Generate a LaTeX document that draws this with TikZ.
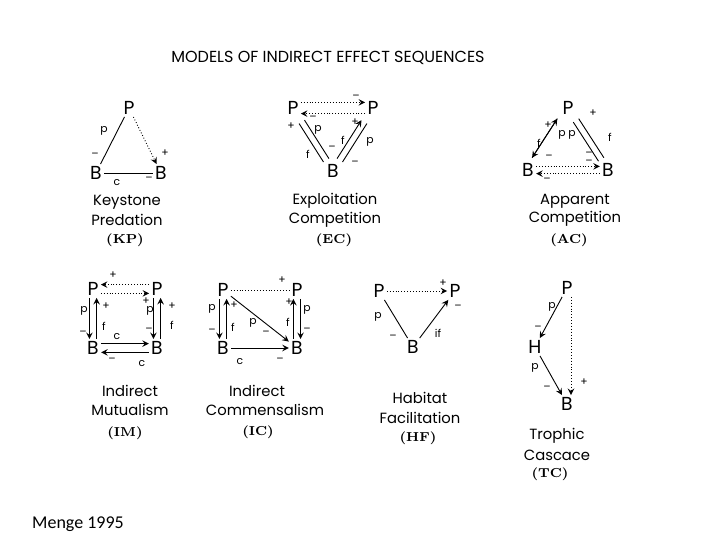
\documentclass[tikz,border=0pt]{standalone}
\usepackage{fontspec}
\usetikzlibrary{arrows,calc,positioning}
\newfontfamily\plotfont{Poppins}
\newfontfamily\notefont{Carlito}
\tikzset{
  sp/.style={font=\plotfont\fontsize{9.4}{10}\selectfont,inner sep=1pt},
  lbl/.style={font=\plotfont\fontsize{5.4}{6}\selectfont,inner sep=0pt},
  modeltxt/.style={font=\plotfont\fontsize{7.4}{9}\selectfont,inner sep=0pt},
  tag/.style={font=\fontsize{6.5}{7}\selectfont\bfseries,inner sep=0pt},
  eff/.style={line width=.45pt},
  ind/.style={line width=.45pt,densely dotted}
}
\begin{document}
\begin{tikzpicture}[x=0.5pt,y=-0.5pt,>=stealth]
\useasboundingbox[fill=white] (0,0) rectangle (720,540);

\node[font=\plotfont\fontsize{8}{9}\selectfont] (title) at (328,58) {MODELS OF INDIRECT EFFECT SEQUENCES};

% keystone predation
\node[sp] (kpP) at (129,108) {P};
\node[sp] (kpB1) at (96,173) {B};
\node[sp] (kpB2) at (161,173) {B};
\draw[eff] (kpP) -- (kpB1);
\draw[ind,->] (kpP) -- (kpB2);
\draw[eff] (kpB1) -- (kpB2);
\node[lbl] (kpl1) at (104,131) {p};
\node[lbl] (kpl2) at (95,155) {–};
\node[lbl] (kpl3) at (165,153) {+};
\node[lbl] (kpl4) at (149,179) {–};
\node[lbl] (kpl5) at (117,183) {c};
\node[modeltxt] (kpc1) at (127,202) {Keystone};
\node[modeltxt] (kpc2) at (127,220) {Predation};
\node[tag] (kpc3) at (125,240) {(KP)};

% exploitation competition
\node[sp] (ecP1) at (293,108) {P};
\node[sp] (ecP2) at (373,108) {P};
\node[sp] (ecB) at (333,171) {B};
\draw[ind,->] ([yshift=2.8pt]ecP1.east) -- ([yshift=2.8pt]ecP2.west);
\draw[ind,->] ([yshift=-2.8pt]ecP2.west) -- ([yshift=-2.8pt]ecP1.east);
\draw[eff] ($(ecP1)!.22!(ecB)!1.6pt!90:(ecB)$) -- ($(ecP1)!.83!(ecB)!1.6pt!-90:(ecP1)$);
\draw[eff] ($(ecP1)!.22!(ecB)!1.6pt!-90:(ecB)$) -- ($(ecP1)!.83!(ecB)!1.6pt!90:(ecP1)$);
\draw[eff,->] ($(ecB)!.17!(ecP2)!1.6pt!90:(ecP2)$) -- ($(ecB)!.78!(ecP2)!1.6pt!-90:(ecB)$);
\draw[eff] ($(ecB)!.17!(ecP2)!1.6pt!-90:(ecP2)$) -- ($(ecB)!.78!(ecP2)!1.6pt!90:(ecB)$);
\node[lbl] (ecl1) at (356,97) {–};
\node[lbl] (ecl2) at (313,118) {–};
\node[lbl] (ecl3) at (355,122) {+};
\node[lbl] (ecl4) at (291,126) {+};
\node[lbl] (ecl5) at (318,130) {p};
\node[lbl] (ecl6) at (308,154) {f};
\node[lbl] (ecl7) at (332,148) {–};
\node[lbl] (ecl8) at (343,140) {f};
\node[lbl] (ecl9) at (370,142) {p};
\node[lbl] (ecl10) at (355,163) {–};
\node[modeltxt] (ecc1) at (335,201) {Exploitation};
\node[modeltxt] (ecc2) at (335,220) {Competition};
\node[tag] (ecc3) at (334,240) {(EC)};

% apparent competition
\node[sp] (acP) at (568,108) {P};
\node[sp] (acB1) at (528,170) {B};
\node[sp] (acB2) at (608,170) {B};
\draw[eff,->] ($(acB1)!.17!(acP)!1.6pt!90:(acP)$) -- ($(acB1)!.8!(acP)!1.6pt!-90:(acB1)$);
\draw[eff,->] ($(acP)!.2!(acB1)!1.6pt!-90:(acB1)$) -- ($(acP)!.83!(acB1)!1.6pt!90:(acP)$);
\draw[eff] ($(acP)!.2!(acB2)!1.6pt!90:(acB2)$) -- ($(acP)!.83!(acB2)!1.6pt!-90:(acP)$);
\draw[eff] ($(acP)!.2!(acB2)!1.6pt!-90:(acB2)$) -- ($(acP)!.83!(acB2)!1.6pt!90:(acP)$);
\draw[ind,->] ([yshift=1.8pt]acB1.east) -- ([yshift=1.8pt]acB2.west);
\draw[ind,->] ([yshift=-1.8pt]acB2.west) -- ([yshift=-1.8pt]acB1.east);
\node[lbl] (acl1) at (548,125) {+};
\node[lbl] (acl2) at (539,143) {f};
\node[lbl] (acl3) at (562,135) {p};
\node[lbl] (acl4) at (572,135) {p};
\node[lbl] (acl5) at (549,157) {–};
\node[lbl] (acl6) at (593,113) {+};
\node[lbl] (acl7) at (610,137) {f};
\node[lbl] (acl8) at (589,154) {–};
\node[lbl] (acl9) at (589,162) {–};
\node[lbl] (acl10) at (547,180) {–};
\node[modeltxt] (acc1) at (575,201) {Apparent};
\node[modeltxt] (acc2) at (575,219) {Competition};
\node[tag] (acc3) at (569,240) {(AC)};

% indirect mutualism
\node[sp] (imP1) at (93,289) {P};
\node[sp] (imP2) at (157,289) {P};
\node[sp] (imB1) at (93,348) {B};
\node[sp] (imB2) at (157,348) {B};
\draw[ind,->] ([yshift=2.2pt]imP2.west) -- ([yshift=2.2pt]imP1.east);
\draw[ind,->] ([yshift=-2.2pt]imP1.east) -- ([yshift=-2.2pt]imP2.west);
\draw[eff,->] ([xshift=-1.8pt]imP1.south) -- ([xshift=-1.8pt]imB1.north);
\draw[eff,->] ([xshift=1.8pt]imB1.north) -- ([xshift=1.8pt]imP1.south);
\draw[eff,->] ([xshift=-1.8pt]imP2.south) -- ([xshift=-1.8pt]imB2.north);
\draw[eff,->] ([xshift=1.8pt]imB2.north) -- ([xshift=1.8pt]imP2.south);
\draw[eff,->] ([yshift=2.2pt]imB1.east) -- ([yshift=2.2pt]imB2.west);
\draw[eff,->] ([yshift=-2.2pt]imB2.west) -- ([yshift=-2.2pt]imB1.east);
\node[lbl] (iml1) at (113,275) {+};
\node[lbl] (iml2) at (146,301) {+};
\node[lbl] (iml3) at (84,311) {p};
\node[lbl] (iml4) at (83,333) {–};
\node[lbl] (iml5) at (106,306) {+};
\node[lbl] (iml6) at (104,326) {f};
\node[lbl] (iml7) at (150,311) {p};
\node[lbl] (iml8) at (149,330) {–};
\node[lbl] (iml9) at (172,306) {+};
\node[lbl] (iml10) at (172,325) {f};
\node[lbl] (iml11) at (117,337) {c};
\node[lbl] (iml12) at (112,360) {–};
\node[lbl] (iml13) at (142,364) {c};
\node[modeltxt] (imc1) at (130,391) {Indirect};
\node[modeltxt] (imc2) at (130,410) {Mutualism};
\node[tag] (imc3) at (125,433) {(IM)};

% indirect commensalism
\node[sp] (icP1) at (223,290) {P};
\node[sp] (icP2) at (297,290) {P};
\node[sp] (icB1) at (223,348) {B};
\node[sp] (icB2) at (297,348) {B};
\draw[ind] (icP1) -- (icP2);
\draw[eff,->] ([xshift=-1.8pt]icP1.south) -- ([xshift=-1.8pt]icB1.north);
\draw[eff,->] ([xshift=1.8pt]icB1.north) -- ([xshift=1.8pt]icP1.south);
\draw[eff,->] (icP1) -- (icB2);
\draw[eff,->] ([xshift=-1.8pt]icB2.north) -- ([xshift=-1.8pt]icP2.south);
\draw[eff,->] ([xshift=1.8pt]icP2.south) -- ([xshift=1.8pt]icB2.north);
\draw[eff,->] (icB1) -- (icB2);
\node[lbl] (icl1) at (282,280) {+};
\node[lbl] (icl2) at (212,309) {p};
\node[lbl] (icl3) at (212,331) {–};
\node[lbl] (icl4) at (234,305) {+};
\node[lbl] (icl5) at (233,327) {f};
\node[lbl] (icl6) at (253,323) {p};
\node[lbl] (icl7) at (266,333) {–};
\node[lbl] (icl8) at (289,302) {+};
\node[lbl] (icl9) at (288,322) {f};
\node[lbl] (icl10) at (307,310) {p};
\node[lbl] (icl11) at (307,330) {–};
\node[lbl] (icl12) at (240,362) {c};
\node[lbl] (icl13) at (280,360) {–};
\node[modeltxt] (icc1) at (257,391) {Indirect};
\node[modeltxt] (icc2) at (265,410) {Commensalism};
\node[tag] (icc3) at (258,432) {(IC)};

% habitat facilitation
\node[sp] (hfP1) at (379,291) {P};
\node[sp] (hfP2) at (455,291) {P};
\node[sp] (hfB) at (413,347) {B};
\draw[ind,->] (hfP1) -- (hfP2);
\draw[eff] (hfP1) -- (hfB);
\draw[eff,->] (hfB) -- (hfP2);
\node[lbl] (hfl1) at (443,283) {+};
\node[lbl] (hfl2) at (378,317) {p};
\node[lbl] (hfl3) at (393,337) {–};
\node[lbl] (hfl4) at (458,307) {–};
\node[lbl] (hfl5) at (438,333) {if};
\node[modeltxt] (hfc1) at (420,398) {Habitat};
\node[modeltxt] (hfc2) at (420,418) {Facilitation};
\node[tag] (hfc3) at (418,438) {(HF)};

% trophic cascade
\node[sp] (tcP) at (567,288) {P};
\node[sp] (tcH) at (535,347) {H};
\node[sp] (tcB) at (567,404) {B};
\draw[eff,->] (tcP) -- (tcH);
\draw[eff,->] (tcH) -- (tcB);
\draw[ind,->] ([xshift=2pt]tcP.south) -- ([xshift=2pt]tcB.north);
\node[lbl] (tcl1) at (552,307) {p};
\node[lbl] (tcl2) at (538,328) {–};
\node[lbl] (tcl3) at (535,368) {p};
\node[lbl] (tcl4) at (547,388) {–};
\node[lbl] (tcl5) at (584,382) {+};
\node[modeltxt] (tcc1) at (557,436) {Trophic};
\node[modeltxt] (tcc2) at (557,455) {Cascace};
\node[tag] (tcc3) at (550,474) {(TC)};

\node[font=\notefont\fontsize{9}{10}\selectfont] (src) at (78,524) {Menge 1995};
\end{tikzpicture}
\end{document}
